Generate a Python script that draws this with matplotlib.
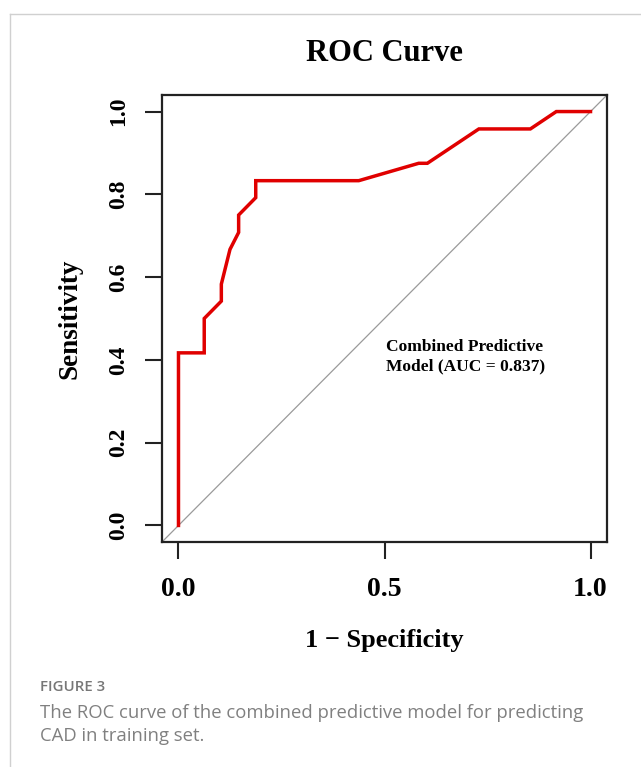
import matplotlib
matplotlib.use("Agg")
import matplotlib.pyplot as plt
from matplotlib.lines import Line2D

# ROC curve points (1 - specificity, sensitivity)
fpr = [0.0, 0.0, 0.0625, 0.0625, 0.104, 0.104, 0.125, 0.146, 0.146,
       0.1875, 0.1875, 0.4375, 0.583, 0.604, 0.729, 0.854, 0.917, 1.0]
tpr = [0.0, 0.417, 0.417, 0.5, 0.542, 0.583, 0.667, 0.708, 0.75,
       0.792, 0.833, 0.833, 0.875, 0.875, 0.958, 0.958, 1.0, 1.0]

x_ticks = [0.0, 0.5, 1.0]
y_ticks = [0.0, 0.2, 0.4, 0.6, 0.8, 1.0]
auc = 0.837

caption_lines = ["The ROC curve of the combined predictive model for predicting",
                 "CAD in training set."]

W, H = 641, 767
SERIF = "Liberation Serif"

fig = plt.figure(figsize=(W / 100, H / 100), dpi=100)
fig.patch.set_facecolor("white")

# page frame lines (top and left)
fig.add_artist(Line2D([10 / W, 1.0], [1 - 13.5 / H, 1 - 13.5 / H],
                      color="#d0d0d0", linewidth=1.0))
fig.add_artist(Line2D([10 / W, 10 / W], [0.0, 1 - 13.5 / H],
                      color="#d0d0d0", linewidth=1.0))

# plot box in pixel terms: left 162, right 607, top 95, bottom 542
ax = fig.add_axes([162 / W, 1 - 542 / H, (607 - 162) / W, (542 - 95) / H])
ax.set_xlim(-0.04, 1.04)
ax.set_ylim(-0.04, 1.04)

# reference diagonal across the whole plot area
ax.plot([-0.04, 1.04], [-0.04, 1.04], color="#9a9a9a", linewidth=0.9,
        zorder=1)
ax.plot(fpr, tpr, color="#e00000", linewidth=2.5, zorder=2,
        solid_joinstyle="miter")

for s in ax.spines.values():
    s.set_linewidth(1.6)
    s.set_color("#222222")

ax.set_xticks(x_ticks)
ax.set_yticks(y_ticks)
ax.set_xticklabels([f"{v:.1f}" for v in x_ticks], family=SERIF,
                   fontweight="bold", fontsize=20)
ax.set_yticklabels([f"{v:.1f}" for v in y_ticks], family=SERIF,
                   fontweight="bold", fontsize=17, rotation=90,
                   va="center")
ax.tick_params(axis="both", direction="out", length=12, width=1.5,
               color="#222222")
ax.tick_params(axis="x", pad=13)
ax.tick_params(axis="y", pad=12)

ax.set_xlabel("1 \u2212 Specificity", family=SERIF, fontweight="bold",
              fontsize=19, va="center")
ax.xaxis.set_label_coords(0.5, (542 - 640) / 447)
ax.set_ylabel("Sensitivity", family=SERIF, fontweight="bold",
              fontsize=19.5, va="center")
ax.yaxis.set_label_coords((70 - 162) / 445, 0.5)

ax.set_title("ROC Curve", family=SERIF, fontweight="bold", fontsize=22,
             y=(542 - 62) / 447, va="center")

ax.text(0.503, 0.408, f"Combined Predictive\nModel (AUC = {auc:.3f})",
        family=SERIF, fontweight="bold", fontsize=12.5, ha="left",
        va="center", linespacing=1.25)

# caption
fig.text(40 / W, 1 - 691 / H, "FIGURE 3", family="Open Sans",
         fontsize=10.8, fontweight="semibold", color="#777777",
         va="baseline", ha="left")
for i, line in enumerate(caption_lines):
    fig.text(40 / W, 1 - (718.3 + 23 * i) / H, line, family="Open Sans",
             fontsize=13.3, color="#808080", va="baseline", ha="left")

fig.savefig("out.png", dpi=100)
